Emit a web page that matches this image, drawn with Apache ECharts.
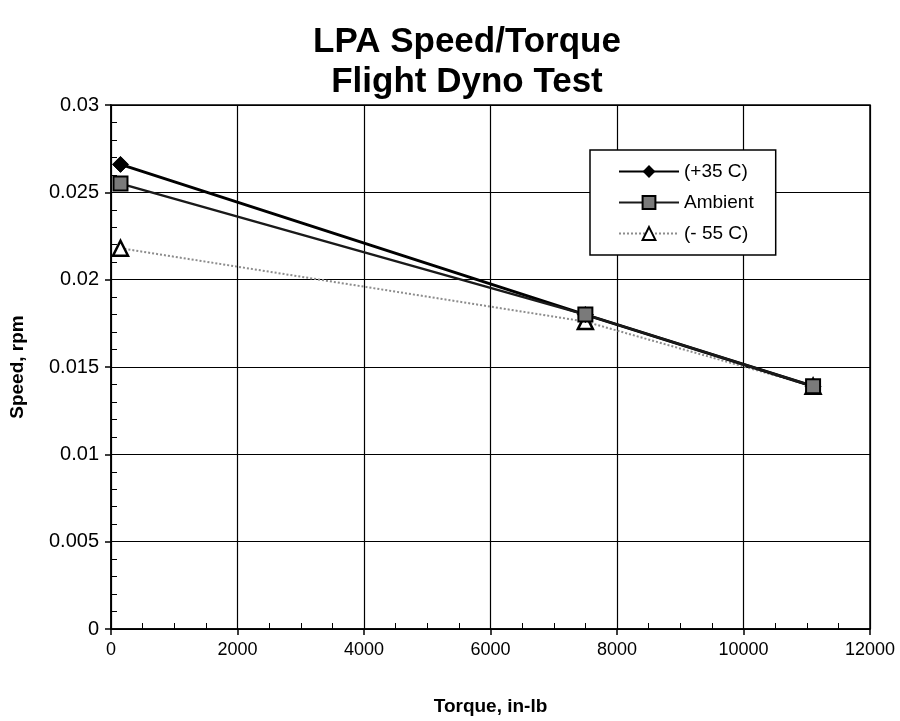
<!DOCTYPE html>
<html>
<head>
<meta charset="utf-8">
<script src="https://cdn.jsdelivr.net/npm/echarts@6/dist/echarts.min.js"></script>
<style>
html,body{margin:0;padding:0;background:#fff;}
#chart{width:900px;height:721px;}
</style>
</head>
<body>
<div id="chart"></div>
<script>
// torque (in-lb) for each test point
var torque = [150, 7500, 11100];
// speed (rpm) per temperature
var hot = [0.0266, 0.0180, 0.0139];
var ambient = [0.0255, 0.0180, 0.0139];
var cold = [0.0218, 0.0176, 0.0139];
var seriesNames = ['(+35 C)', 'Ambient', '(- 55 C)'];

function pairs(xs, ys){
	var ret = [];
	for (var i = 0; i < xs.length; i++) {
		ret.push([xs[i], ys[i]]);
	}
	return ret;
}

var myChart = echarts.init(document.getElementById('chart'));
var font = 'Liberation Sans, Arial, sans-serif';
var option = {
	backgroundColor: '#fff',
	animation: false,
	title: {
		text: 'LPA Speed/Torque\nFlight Dyno Test',
		left: 462,
		textAlign: 'center',
		top: 17,
		textStyle: {
			fontFamily: font,
			fontSize: 35,
			fontWeight: 'bold',
			color: '#000',
			lineHeight: 40
		}
	},
	legend: {
		orient: 'vertical',
		left: 590,
		top: 150,
		backgroundColor: '#fff',
		borderColor: '#000',
		borderWidth: 1.5,
		borderRadius: 0,
		padding: [12, 22, 12, 28],
		itemGap: 12,
		itemWidth: 60,
		itemHeight: 16,
		textStyle: { fontFamily: font, fontSize: 19, color: '#000' },
		data: seriesNames
	},
	grid: {
		left: 109,
		right: 30,
		top: 105,
		bottom: 85,
		show: true,
		borderColor: '#000',
		borderWidth: 1.5
	},
	xAxis: {
		type: 'value',
		min: 0,
		max: 12000,
		interval: 2000,
		name: 'Torque, in-lb',
		nameLocation: 'middle',
		nameGap: 68,
		nameTextStyle: { fontFamily: font, fontSize: 19, fontWeight: 'bold', color: '#000' },
		axisLine: { lineStyle: { color: '#000', width: 1.5 } },
		axisTick: { show: true, length: 6, lineStyle: { color: '#000', width: 1.5 } },
		minorTick: { show: true, splitNumber: 4, length: -6, lineStyle: { color: '#000', width: 1 } },
		axisLabel: {
			fontFamily: font, fontSize: 18, color: '#000', margin: 12,
			formatter: function (v) { return String(v); }
		},
		splitLine: { show: true, lineStyle: { color: '#000', width: 1.2 } }
	},
	yAxis: {
		type: 'value',
		min: 0,
		max: 0.03,
		interval: 0.005,
		name: 'Speed, rpm',
		nameLocation: 'middle',
		nameGap: 84,
		nameTextStyle: { fontFamily: font, fontSize: 19, fontWeight: 'bold', color: '#000' },
		axisLine: { show: true, lineStyle: { color: '#000', width: 1.5 } },
		axisTick: { show: true, length: 6, lineStyle: { color: '#000', width: 1.5 } },
		minorTick: { show: true, splitNumber: 5, length: -6, lineStyle: { color: '#000', width: 1 } },
		axisLabel: { fontFamily: font, fontSize: 20, color: '#000', margin: 12 },
		splitLine: { show: true, lineStyle: { color: '#000', width: 1.2 } }
	},
	series: [
		{
			name: seriesNames[0],
			type: 'line',
			data: pairs(torque, hot),
			symbol: 'diamond',
			symbolSize: 16,
			z: 4,
			lineStyle: { color: '#000', width: 3 },
			itemStyle: { color: '#000', borderColor: '#000' }
		},
		{
			name: seriesNames[1],
			type: 'line',
			data: pairs(torque, ambient),
			symbol: 'rect',
			symbolSize: 14,
			z: 5,
			lineStyle: { color: '#1a1a1a', width: 2.5 },
			itemStyle: { color: '#7a7a7a', borderColor: '#000', borderWidth: 2 }
		},
		{
			name: seriesNames[2],
			type: 'line',
			data: pairs(torque, cold),
			symbol: 'triangle',
			symbolSize: 15,
			z: 3,
			lineStyle: { color: '#8c8c8c', width: 2, type: 'dotted' },
			itemStyle: { color: '#fff', borderColor: '#000', borderWidth: 2.5 }
		}
	]
};
myChart.setOption(option);
</script>
</body>
</html>
